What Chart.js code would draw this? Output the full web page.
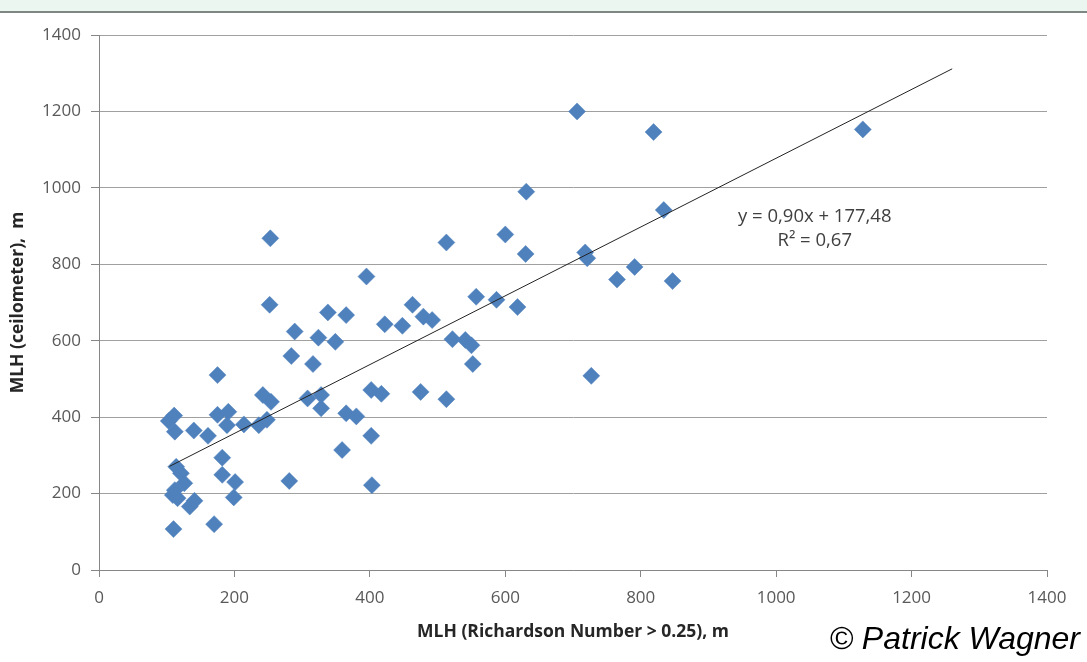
<!DOCTYPE html>
<html>
<head>
<meta charset="utf-8">
<script src="https://cdn.jsdelivr.net/npm/chart.js@4.4.1/dist/chart.umd.min.js"></script>
<style>
  html, body { margin: 0; padding: 0; background: #fff; }
  body { width: 1087px; height: 662px; position: relative; overflow: hidden; }
  #wrap { position: absolute; left: 0; top: 0; width: 1087px; height: 662px; }
  #band { position: absolute; left: 0; top: 0; width: 1087px; height: 11px; background: #eaf6ef; border-bottom: 2px solid #7f8784; }
  #credit { position: absolute; right: 7px; top: 620px; font: italic 32px "Liberation Sans", Arial, sans-serif; color: #000; }
</style>
</head>
<body>
<div id="wrap"><canvas id="mlhChart" width="1087" height="662"></canvas></div>
<div id="band"></div>
<div id="credit">© Patrick Wagner</div>
<script>
// MLH from Richardson number (x) vs ceilometer (y), metres
const richardsonMLH = [
  175, 242, 254, 308, 328, 328, 103, 111, 112, 140, 161, 175, 191, 189, 214, 236, 248,
  182, 182, 201, 199, 114, 121, 126, 109, 116, 112, 141, 134, 110, 170,
  281, 284, 253, 513, 395, 557, 252, 338, 365, 463, 479, 492, 422, 448, 289, 324, 349,
  522, 541, 550, 552, 316, 402, 417, 475, 513, 365, 380, 402, 359, 403,
  600, 630, 718, 721, 791, 765, 587, 618, 727, 706, 819, 631, 834, 847, 1128
];
const ceilometerMLH = [
  510, 458, 440, 449, 458, 423, 390, 404, 362, 365, 351, 406, 414, 379, 381, 379, 393,
  294, 249, 230, 190, 270, 253, 227, 196, 188, 209, 181, 166, 107, 120,
  233, 560, 868, 857, 768, 715, 694, 674, 667, 694, 663, 654, 643, 639, 624, 608, 597,
  604, 602, 588, 539, 539, 471, 461, 466, 447, 410, 402, 351, 314, 222,
  878, 827, 831, 816, 793, 760, 707, 688, 508, 1200, 1146, 990, 942, 756, 1153
];

const xTicks = [0, 200, 400, 600, 800, 1000, 1200, 1400];
const yTicks = [0, 200, 400, 600, 800, 1000, 1200, 1400];

// linear trendline as printed on the chart
const trendSlope = 0.90;
const trendIntercept = 177.48;
const trendFrom = 104;
const trendTo = 1260;
const trendText = ["y = 0,90x + 177,48", "R\u00b2 = 0,67"];

const points = richardsonMLH.map((x, i) => ({ x: x, y: ceilometerMLH[i] }));
const trend = [trendFrom, trendTo].map(x => ({ x: x, y: trendSlope * x + trendIntercept }));

const tickFont = { family: "'Open Sans', sans-serif", size: 17 };
const titleFont = { family: "'Open Sans', sans-serif", size: 17.5, weight: 'bold' };

// equation label next to the trendline
const equationLabel = {
  id: 'equationLabel',
  afterDatasetsDraw(chart) {
    const ctx = chart.ctx;
    const xs = chart.scales.x, ys = chart.scales.y;
    const cx = xs.getPixelForValue(1057);
    ctx.save();
    ctx.font = "18.5px 'Open Sans', sans-serif";
    ctx.fillStyle = '#404040';
    ctx.textAlign = 'center';
    ctx.textBaseline = 'middle';
    ctx.fillText(trendText[0], cx, ys.getPixelForValue(925));
    ctx.fillText(trendText[1], cx, ys.getPixelForValue(862));
    ctx.restore();
  }
};

new Chart(document.getElementById('mlhChart'), {
  type: 'scatter',
  data: {
    datasets: [
      {
        type: 'line',
        data: trend,
        borderColor: '#222',
        borderWidth: 1,
        pointRadius: 0,
        fill: false,
        order: 0
      },
      {
        data: points,
        pointStyle: 'rectRot',
        pointRadius: 8.5,
        backgroundColor: '#4f81bd',
        borderColor: '#4f81bd',
        borderWidth: 0.5,
        order: 1
      }
    ]
  },
  options: {
    responsive: false,
    animation: false,
    events: [],
    layout: { padding: { top: 35, right: 40, bottom: 0, left: 0 } },
    plugins: { legend: { display: false }, tooltip: { enabled: false } },
    scales: {
      x: {
        type: 'linear',
        min: xTicks[0],
        max: xTicks[xTicks.length - 1],
        afterBuildTicks: s => { s.ticks = xTicks.map(v => ({ value: v })); },
        afterFit: s => { s.height = 92; },
        border: { display: true, color: '#868686', width: 1 },
        grid: { drawOnChartArea: false, drawTicks: true, tickLength: 7, tickColor: '#868686' },
        ticks: { font: tickFont, color: '#595959', padding: 11, maxRotation: 0, callback: v => String(v) },
        title: {
          display: true,
          text: 'MLH (Richardson Number > 0.25), m',
          font: titleFont,
          color: '#262626',
          padding: { top: 0, bottom: 19 }
        }
      },
      y: {
        type: 'linear',
        min: yTicks[0],
        max: yTicks[yTicks.length - 1],
        afterBuildTicks: s => { s.ticks = yTicks.map(v => ({ value: v })); },
        afterFit: s => { s.width = 99; },
        border: { display: true, color: '#868686', width: 1 },
        grid: { color: '#a0a0a0', lineWidth: 1, drawTicks: true, tickLength: 8, tickColor: '#868686' },
        ticks: { font: tickFont, color: '#595959', padding: 10, callback: v => String(v) },
        title: {
          display: true,
          text: 'MLH (ceilometer),  m',
          font: titleFont,
          color: '#262626',
          padding: { top: 8, bottom: 0 }
        }
      }
    }
  },
  plugins: [equationLabel]
});
</script>
</body>
</html>
